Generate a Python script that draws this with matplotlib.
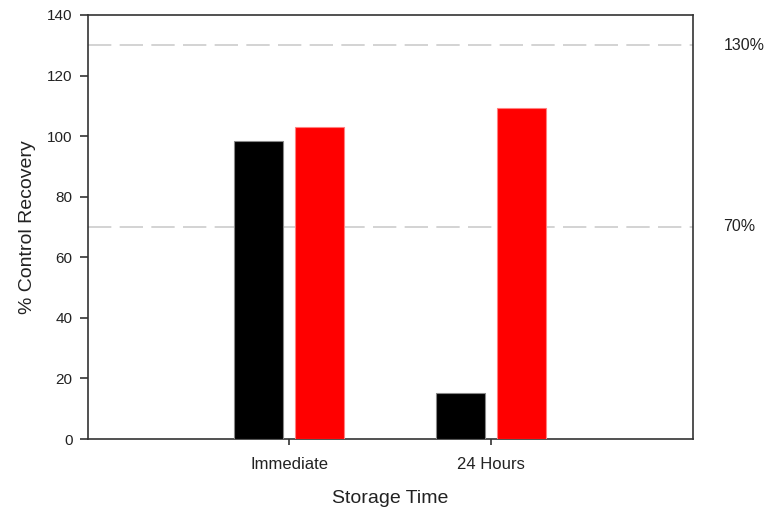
import matplotlib
matplotlib.use("Agg")
import matplotlib.pyplot as plt
import numpy as np

categories = ["Immediate", "24 Hours"]
series_black = [98.5, 15.2]
series_red = [103.1, 109.2]
ref_lines = [130, 70]
ref_labels = ["130%", "70%"]
y_ticks = [0, 20, 40, 60, 80, 100, 120, 140]

plt.rcParams['font.family'] = ['Liberation Sans', 'DejaVu Sans']

fig = plt.figure(figsize=(7.67, 5.08), dpi=100)
ax = fig.add_axes([0.1143, 0.1358, 0.7888, 0.8347])

x = np.arange(1, len(categories) + 1)
w = 0.242
off = 0.151
ax.bar(x - off, series_black, width=w, color='black', edgecolor='#888888', linewidth=0.8, zorder=3)
ax.bar(x + off, series_red, width=w, color='#ff0000', edgecolor='#ff8080', linewidth=0.8, zorder=3)

for v, lab in zip(ref_lines, ref_labels):
    ax.axhline(v, color='#cccccc', linestyle=(0, (14, 5)), linewidth=1.2, zorder=1)
    ax.text(1.051, v, lab, transform=ax.get_yaxis_transform(), va='center', ha='left',
            fontsize=11.5, color='#222222')

ax.set_xlim(0, 3)
ax.set_ylim(0, 140)
ax.set_xticks(x)
ax.set_xticklabels(categories)
ax.set_yticks(y_ticks)
ax.tick_params(axis='y', direction='out', length=6, width=1.2, labelsize=11, labelcolor='#222222', colors='#333333', pad=5)
ax.tick_params(axis='x', direction='out', length=4, width=1.2, labelsize=12, labelcolor='#222222', colors='#333333', pad=9)
for s in ax.spines.values():
    s.set_color('#333333')
    s.set_linewidth(1.2)

ax.set_xlabel("Storage Time", fontsize=14, color='#222222', labelpad=13)
ax.set_ylabel("% Control Recovery", fontsize=14, color='#222222', labelpad=8)

fig.savefig("out.png", dpi=100)
